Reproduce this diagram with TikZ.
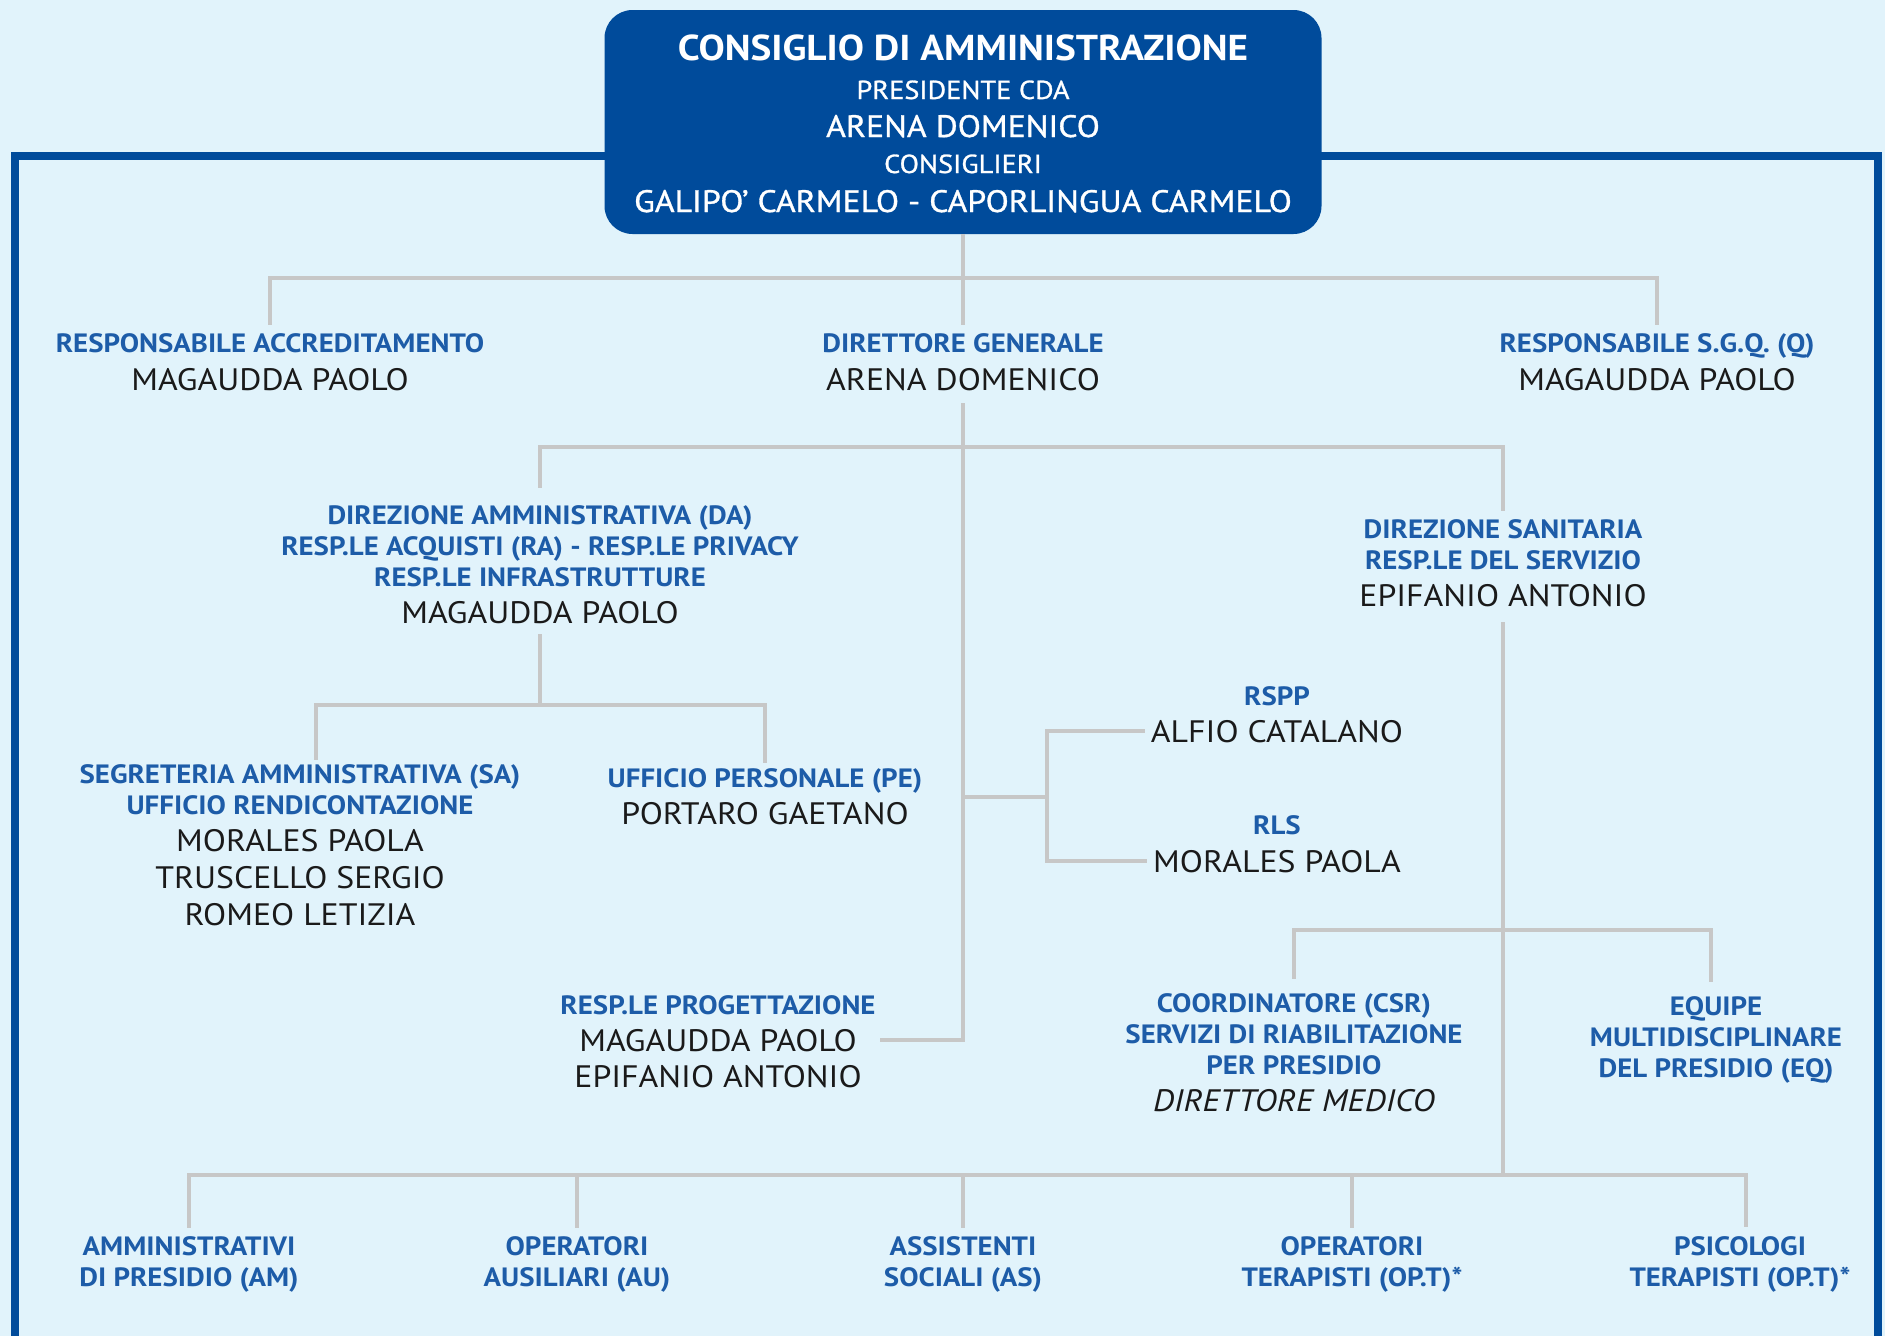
\documentclass[tikz,border=0pt]{standalone}
\usepackage{fontspec}
\setmainfont{PT Sans}[FakeStretch=1.09]
\newfontfamily\medio{PT Sans}[FakeStretch=1.09,FakeBold=1]
\usepackage{tikz}

\definecolor{sfondo}{HTML}{E1F3FB}
\definecolor{bluscuro}{HTML}{004B9B}
\definecolor{blutesto}{HTML}{1D5CA8}
\definecolor{grigio}{HTML}{C7C7C7}
\definecolor{nero}{HTML}{1A1A1A}

\begin{document}
\begin{tikzpicture}[x=1pt,y=-1pt,
  ruolo/.style={anchor=base,inner sep=0pt,text=blutesto,text height=18pt,text depth=0pt,
    font=\bfseries\fontsize{26.5}{31}\selectfont},
  nome/.style={anchor=base,inner sep=0pt,text=nero,text height=22pt,text depth=0pt,
    font=\fontsize{31}{37}\selectfont},
  bianco/.style={anchor=base,inner sep=0pt,text=white,font=\medio\fontsize{31}{37}\selectfont},
  link/.style={draw=grigio,line width=3.5pt},
  cornice/.style={draw=bluscuro,line width=7.5pt}]
% sfondo e cornice
\fill[sfondo] (0,0) rectangle (1885,1336);
\useasboundingbox (0,0) rectangle (1885,1336);
\draw[cornice] (15,1336) |- (1878,156) -- (1878,1336);

% Consiglio di amministrazione
\node[fill=bluscuro,rounded corners=28pt,minimum width=717pt,minimum height=224pt,inner sep=0pt] (cda) at (963,122) {};
\node[bianco,font=\bfseries\fontsize{36}{42}\selectfont] (cdaT) at (963,60) {CONSIGLIO DI AMMINISTRAZIONE};
\node[bianco,font=\medio\fontsize{26}{30}\selectfont] (presT) at (963,99) {PRESIDENTE CDA};
\node[bianco] (presN) at (963,137) {ARENA DOMENICO};
\node[bianco,font=\medio\fontsize{26}{30}\selectfont] (consT) at (963,173) {CONSIGLIERI};
\node[bianco] (consN) at (963,212) {GALIPO’ CARMELO - CAPORLINGUA CARMELO};

% secondo livello
\node[ruolo] (raccR) at (270,352) {RESPONSABILE ACCREDITAMENTO};
\node[nome] (raccN) at (270,390) {MAGAUDDA PAOLO};
\node[ruolo] (dgR) at (963,352) {DIRETTORE GENERALE};
\node[nome] (dgN) at (963,390) {ARENA DOMENICO};
\node[ruolo] (sgqR) at (1657,352) {RESPONSABILE S.G.Q. (Q)};
\node[nome] (sgqN) at (1657,390) {MAGAUDDA PAOLO};

% direzione amministrativa
\node[ruolo] (daR1) at (540,524) {DIREZIONE AMMINISTRATIVA (DA)};
\node[ruolo] (daR2) at (540,555) {RESP.LE ACQUISTI (RA) - RESP.LE PRIVACY};
\node[ruolo] (daR3) at (540,586) {RESP.LE INFRASTRUTTURE};
\node[nome] (daN) at (540,623) {MAGAUDDA PAOLO};

% direzione sanitaria
\node[ruolo] (dsR1) at (1503,538) {DIREZIONE SANITARIA};
\node[ruolo] (dsR2) at (1503,569) {RESP.LE DEL SERVIZIO};
\node[nome] (dsN) at (1503,606) {EPIFANIO ANTONIO};

% segreteria e personale
\node[ruolo] (saR1) at (300,783) {SEGRETERIA AMMINISTRATIVA (SA)};
\node[ruolo] (saR2) at (300,814) {UFFICIO RENDICONTAZIONE};
\node[nome] (saN1) at (300,851) {MORALES PAOLA};
\node[nome] (saN2) at (300,888) {TRUSCELLO SERGIO};
\node[nome] (saN3) at (300,925) {ROMEO LETIZIA};
\node[ruolo] (peR) at (765,787) {UFFICIO PERSONALE (PE)};
\node[nome] (peN) at (765,824) {PORTARO GAETANO};

% RSPP e RLS
\node[ruolo] (rsppR) at (1277,705) {RSPP};
\node[nome] (rsppN) at (1277,742) {ALFIO CATALANO};
\node[ruolo] (rlsR) at (1277,834) {RLS};
\node[nome] (rlsN) at (1277,872) {MORALES PAOLA};

% progettazione
\node[ruolo] (progR) at (718,1014) {RESP.LE PROGETTAZIONE};
\node[nome] (progN1) at (718,1051) {MAGAUDDA PAOLO};
\node[nome] (progN2) at (718,1087) {EPIFANIO ANTONIO};

% coordinatore ed equipe
\node[ruolo] (csrR1) at (1294,1012) {COORDINATORE (CSR)};
\node[ruolo] (csrR2) at (1294,1043) {SERVIZI DI RIABILITAZIONE};
\node[ruolo] (csrR3) at (1294,1074) {PER PRESIDIO};
\node[nome,font=\itshape\fontsize{31}{37}\selectfont] (csrN) at (1294,1111) {DIRETTORE MEDICO};
\node[ruolo] (eqR1) at (1716,1015) {EQUIPE};
\node[ruolo] (eqR2) at (1716,1046) {MULTIDISCIPLINARE};
\node[ruolo] (eqR3) at (1716,1077) {DEL PRESIDIO (EQ)};

% operatori di presidio
\foreach \x/\n/\a/\b in {189/am/AMMINISTRATIVI/DI PRESIDIO (AM), 577/au/OPERATORI/AUSILIARI (AU),
    963/as/ASSISTENTI/SOCIALI (AS), 1352/opt/OPERATORI/TERAPISTI (OP.T)*, 1740/psi/PSICOLOGI/TERAPISTI (OP.T)*}{
  \node[ruolo] (\n R1) at (\x,1255) {\a};
  \node[ruolo] (\n R2) at (\x,1286) {\b};
}

% collegamenti
\coordinate (bus1) at (963,278);
\coordinate (bus2) at (963,447);
\coordinate (bus3) at (540,705);
\coordinate (bus4) at (1503,930);
\coordinate (bus5) at (1503,1175);
\coordinate (rsppJ) at (963,797);
\coordinate (rsppK) at (1047,797);
\coordinate (saTop) at (316,760);
\coordinate (eqTop) at (1711,982);
\coordinate (psiTop) at (1746,1227);

\draw[link,shorten >=9pt] (cda.south) -- (dgR.north);
\draw[link,shorten <=9pt,shorten >=9pt] (raccR.north) |- (bus1) -| (sgqR.north);
\draw[link,shorten <=13pt,shorten >=23pt] (dgN.south) |- (progN1.east);
\draw[link,shorten <=18pt,shorten >=9pt] (daR1.north) |- (bus2) -| (dsR1.north);
\draw[link,shorten <=11pt] (daN.south) -- (bus3);
\draw[link,shorten >=6pt] (saTop) |- (bus3) -| (peR.north);
\draw[link] (rsppJ) -- (rsppK);
\draw[link,shorten <=6pt,shorten >=6pt] (rsppN.west) -| (rsppK) |- (rlsN.west);
\draw[link,shorten <=16pt] (dsN.south) -- (bus5);
\draw[link,shorten <=15pt] (csrR1.north) |- (bus4) -| (eqTop);
\draw[link,shorten <=9pt] (amR1.north) |- (bus5) -| (psiTop);
\foreach \n in {au,as,opt}
  \draw[link,shorten >=9pt] (\n R1.north |- bus5) -- (\n R1.north);
\end{tikzpicture}
\end{document}
